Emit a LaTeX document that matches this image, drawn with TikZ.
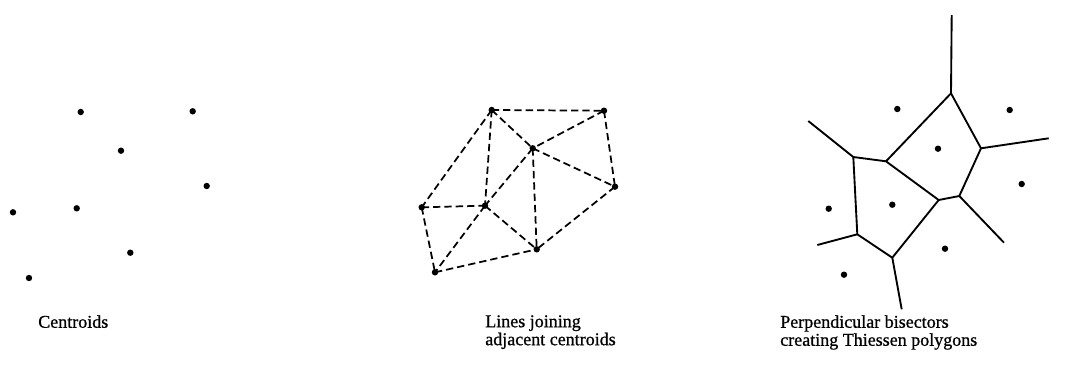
\documentclass[tikz,border=0pt]{standalone}
\usepackage{fontspec}
\setmainfont{Liberation Serif}[FakeBold=0.8]
\usetikzlibrary{positioning}

\begin{document}
\begin{tikzpicture}[x=0.75pt,y=-0.75pt,
  centroid/.style={circle,fill,inner sep=0pt,minimum size=4.8pt},
  joinline/.style={line width=1.3pt,dash pattern=on 5.5pt off 3pt},
  bisector/.style={line width=1.4pt,line join=round},
  caption/.style={anchor=north west,inner sep=0pt,align=left,font=\fontsize{13.5}{13.5}\selectfont}]
\useasboundingbox (0,0) rectangle (1071,372);
\foreach \name/\xx/\yy in {c1/80.7/112, c2/192.7/111.3, c3/121/150.7, c4/206.7/186, c5/13/212.3, c6/76.7/208.3, c7/130.3/252.7, c8/29/278}
  {\node[centroid] (\name) at (\xx,\yy) {};}
\foreach \name/\xx/\yy in {j1/491.7/110, j2/604/110.7, j3/532.7/148.3, j4/615/186.7, j5/421.7/207.3, j6/485/205.7, j7/536.7/249.3, j8/435/272.3}
  {\node[centroid] (\name) at (\xx,\yy) {};}
\foreach \from/\to in {j1/j2, j1/j3, j1/j6, j1/j5, j2/j3, j2/j4, j3/j4, j3/j6, j3/j7, j4/j7, j5/j6, j5/j8, j6/j7, j6/j8, j8/j7}
  {\draw[joinline] (\from.center) -- (\to.center);}
\foreach \name/\xx/\yy in {t1/897.3/109, t2/1009.7/110, t3/938/148.7, t4/1021.7/184, t5/828.7/208.7, t6/892.3/204.7, t7/945/248.7, t8/844/274.7}
  {\node[centroid] (\name) at (\xx,\yy) {};}
\coordinate (v1) at (951,93.3);
\coordinate (v2) at (981,148.3);
\coordinate (v3) at (959.3,196);
\coordinate (v4) at (938.7,200);
\coordinate (v5) at (886,161.3);
\coordinate (v6) at (853.3,157);
\coordinate (v7) at (857.3,234.3);
\coordinate (v8) at (892.3,257.7);
\coordinate (r1) at (951.7,15);
\coordinate (r2) at (1048.7,138.3);
\coordinate (r3) at (1004,242.7);
\coordinate (r4) at (808.3,121);
\coordinate (r5) at (817.3,245);
\coordinate (r6) at (901.7,309.3);
\draw[bisector] (v6) -- (v5) -- (v1) -- (v2) -- (v3) -- (v4) -- (v5);
\draw[bisector] (v4) -- (v8) -- (v7) -- (v6);
\foreach \from/\to in {v1/r1, v2/r2, v3/r3, v6/r4, v7/r5, v8/r6}
  {\draw[bisector] (\from) -- (\to);}
\node[caption] (centroids) at (38,315) {Centroids};
\node[caption] (joining) at (485,315) {Lines joining\\adjacent centroids};
\node[caption] (thiessen) at (780,315) {Perpendicular bisectors\\creating Thiessen polygons};
\end{tikzpicture}
\end{document}
